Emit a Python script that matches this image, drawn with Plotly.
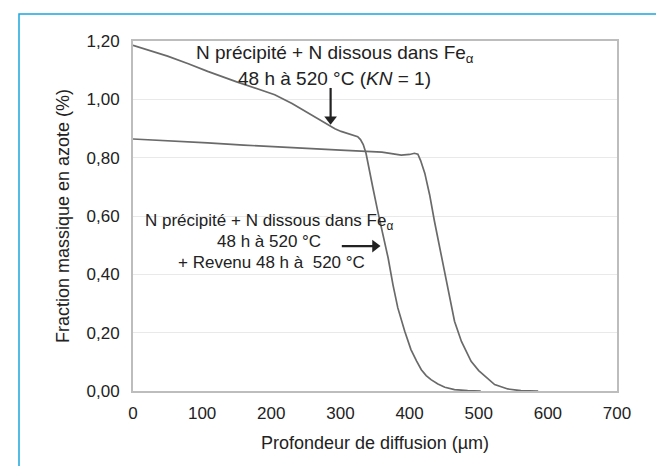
import plotly.graph_objects as go

# Profondeur (µm) / fraction massique N (%)
x_kn1 = [0, 25, 50, 80, 108, 150, 205, 230, 253, 270, 282, 292, 301, 310, 318, 325, 329,
         333, 337, 340, 344, 347, 354, 362, 369, 376, 383, 393, 402, 410, 417, 424, 431,
         441, 451, 465, 484, 503]
y_kn1 = [1.185, 1.167, 1.148, 1.122, 1.096, 1.06, 1.016, 0.986, 0.953, 0.93, 0.913,
         0.899, 0.89, 0.883, 0.877, 0.872, 0.862, 0.845, 0.815, 0.776, 0.735, 0.696,
         0.616, 0.536, 0.456, 0.364, 0.285, 0.205, 0.142, 0.103, 0.073, 0.053, 0.039,
         0.024, 0.013, 0.005, 0.001, 0.0]

x_rev = [0, 50, 108, 160, 205, 253, 300, 360, 388, 400, 407, 412, 416, 422, 429, 436,
         444, 451, 458, 465, 475, 489, 500, 509, 523, 542, 561, 586]
y_rev = [0.864, 0.859, 0.851, 0.843, 0.837, 0.833, 0.826, 0.819, 0.809, 0.811, 0.815,
         0.812, 0.79, 0.747, 0.673, 0.582, 0.49, 0.399, 0.319, 0.239, 0.17, 0.102,
         0.07, 0.05, 0.022, 0.007, 0.001, 0.0]

x_ticks = [0, 100, 200, 300, 400, 500, 600, 700]
y_ticks = [0, 0.2, 0.4, 0.6, 0.8, 1.0, 1.2]

# arrow shafts (data units) and arrow-head positions
arrow1_x = [285.8, 285.8]
arrow1_y = [1.039, 0.93]
arrow1_head = (285.8, 0.932)
arrow2_x = [302, 350]
arrow2_y = [0.497, 0.497]
arrow2_head = (350, 0.497)

line_color = "#6a6a6a"
ink = "#222222"
font_main = "Liberation Sans, Arial, sans-serif"

fig = go.Figure()
fig.add_trace(go.Scatter(x=x_kn1, y=y_kn1, mode="lines",
                         line=dict(color=line_color, width=1.7),
                         hoverinfo="skip", showlegend=False))
fig.add_trace(go.Scatter(x=x_rev, y=y_rev, mode="lines",
                         line=dict(color=line_color, width=1.7),
                         hoverinfo="skip", showlegend=False))

for ax_, ay_, head, sym in [(arrow1_x, arrow1_y, arrow1_head, "triangle-down"),
                            (arrow2_x, arrow2_y, arrow2_head, "triangle-right")]:
    fig.add_trace(go.Scatter(x=ax_, y=ay_, mode="lines",
                             line=dict(color=ink, width=2.2),
                             hoverinfo="skip", showlegend=False))
    fig.add_trace(go.Scatter(x=[head[0]], y=[head[1]], mode="markers",
                             marker=dict(symbol=sym, size=11, color=ink,
                                         line=dict(width=0)),
                             hoverinfo="skip", showlegend=False))

annots = [
    dict(x=292, y=1.154, text="N précipité + N dissous dans Fe<sub>α</sub>", size=19),
    dict(x=292, y=1.073, text="48 h à 520 °C (<i>KN</i> = 1)", size=19),
    dict(x=197, y=0.579, text="N précipité + N dissous dans Fe<sub>α</sub>", size=17),
    dict(x=196, y=0.511, text="48 h à 520 °C", size=17),
    dict(x=200, y=0.439, text="+ Revenu 48 h à  520 °C", size=17),
]
for a in annots:
    fig.add_annotation(x=a["x"], y=a["y"], xref="x", yref="y", text=a["text"],
                       showarrow=False, xanchor="center", yanchor="middle",
                       font=dict(family=font_main, size=a["size"], color=ink))

# outer blue frame
fig.add_shape(type="rect", xref="paper", yref="paper",
              x0=(11 - 125) / 484, x1=(658 - 125) / 484,
              y0=(383 - 480) / 350, y1=(383 - 6) / 350,
              line=dict(color="#1aa7e0", width=1.5), layer="below")

fig.update_xaxes(range=[0, 700], tickvals=x_ticks, showgrid=False, zeroline=False,
                 showline=True, linecolor="#bdbdbd", linewidth=2, mirror=True,
                 ticks="outside", ticklen=6, tickcolor="rgba(0,0,0,0)",
                 tickfont=dict(family=font_main, size=17, color=ink),
                 title=dict(text="Profondeur de diffusion (µm)", standoff=14,
                            font=dict(family=font_main, size=18, color=ink)))
fig.update_yaxes(range=[0, 1.2], tickvals=y_ticks, tickformat=".2f", showgrid=True,
                 gridcolor="#e9e9e9", gridwidth=1, zeroline=False,
                 showline=True, linecolor="#bdbdbd", linewidth=2, mirror=True,
                 ticks="outside", ticklen=8, tickcolor="rgba(0,0,0,0)",
                 tickfont=dict(family=font_main, size=17, color=ink),
                 title=dict(text="Fraction massique en azote (%)", standoff=12,
                            font=dict(family=font_main, size=18, color=ink)))

fig.update_layout(width=664, height=466, separators=", ",
                  margin=dict(l=125, r=55, t=33, b=83, autoexpand=False),
                  plot_bgcolor="white", paper_bgcolor="white")

fig.write_html("out.html")
